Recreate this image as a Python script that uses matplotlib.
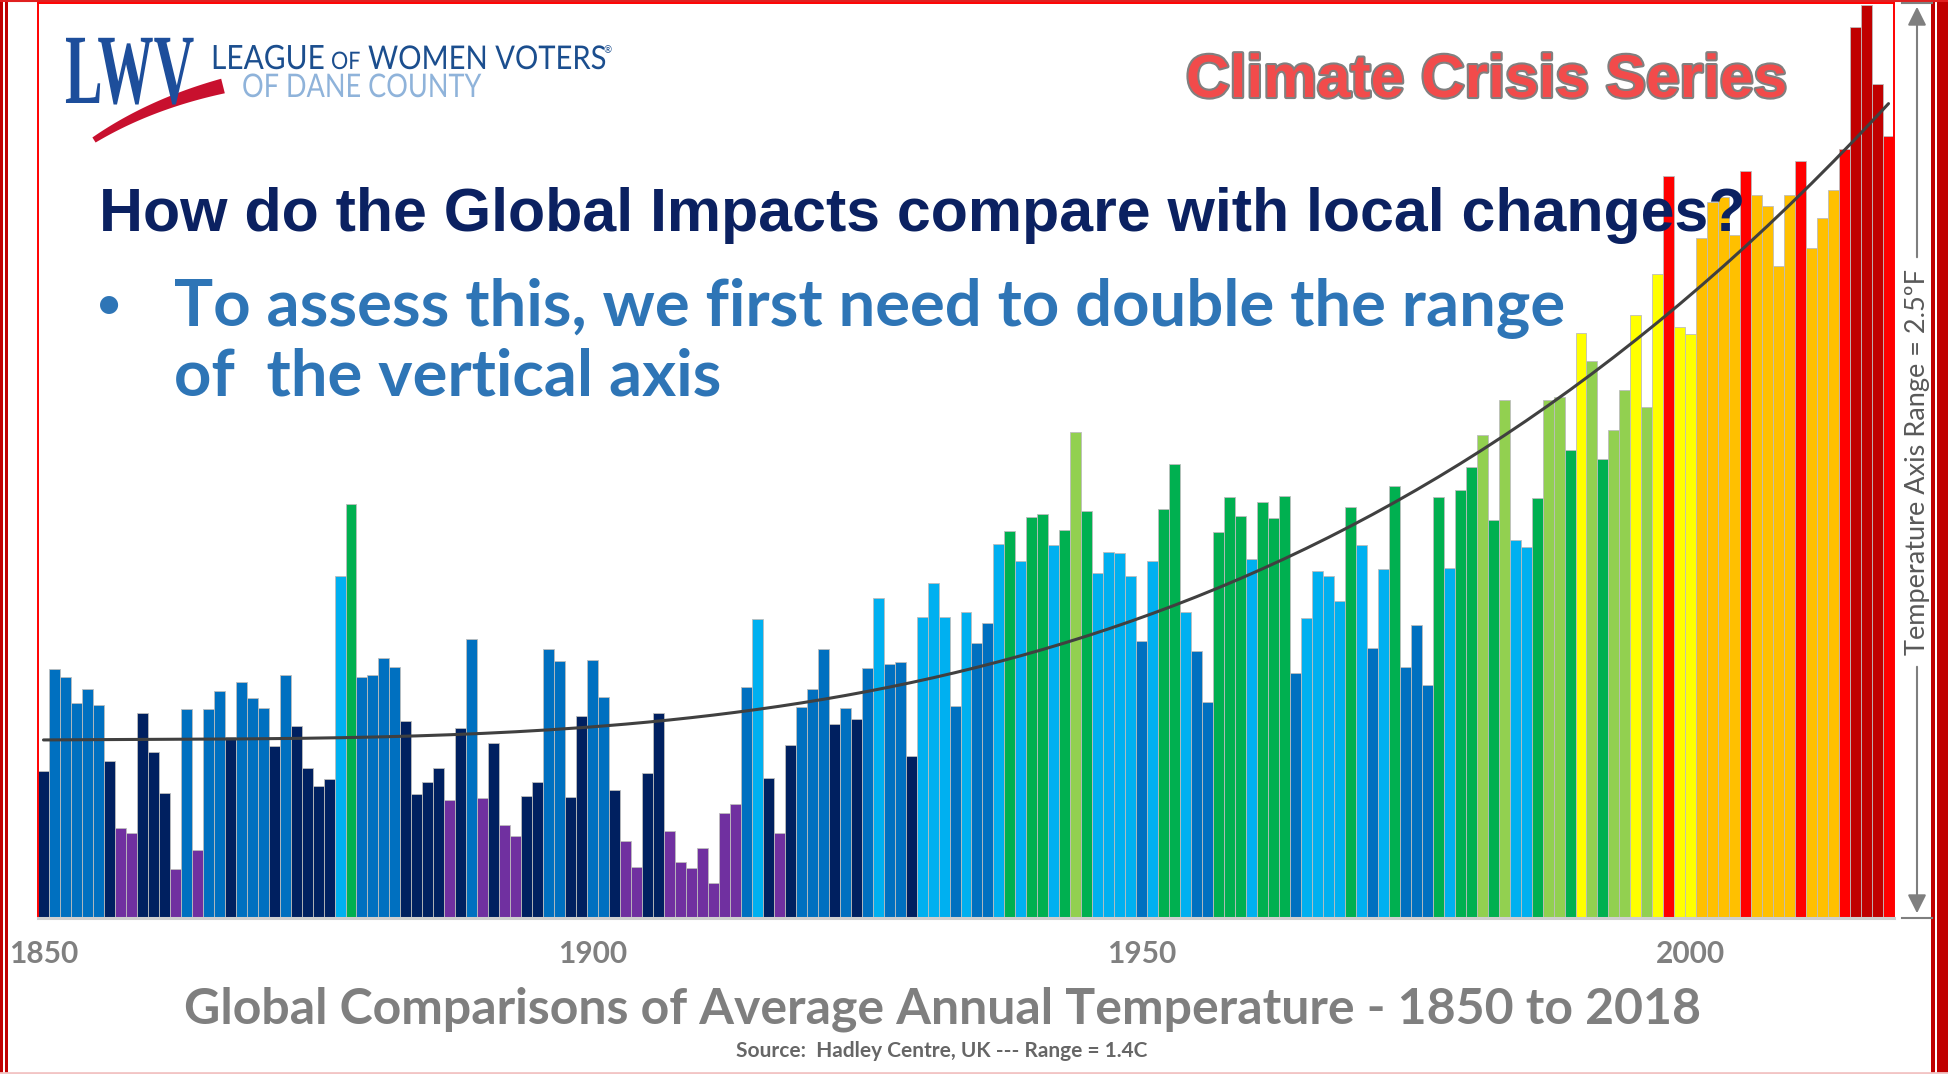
import numpy as np
import matplotlib
matplotlib.use("Agg")
import matplotlib.pyplot as plt
from matplotlib import patheffects as pe
from matplotlib.patches import Rectangle, Polygon
from matplotlib.transforms import Affine2D

# ---------------------------------------------------------------- data
years = np.arange(1850, 2019)

# global annual temperature anomaly, degrees C
anomaly_c = [
    -0.375, -0.218, -0.230, -0.270, -0.249, -0.273, -0.359, -0.462, -0.470, -0.286,
    -0.345, -0.408, -0.525, -0.280, -0.496, -0.280, -0.252, -0.322, -0.238, -0.263,
    -0.278, -0.336, -0.227, -0.306, -0.370, -0.398, -0.387, -0.076, 0.035, -0.230,
    -0.227, -0.201, -0.215, -0.298, -0.410, -0.391, -0.370, -0.419, -0.309, -0.172,
    -0.416, -0.332, -0.457, -0.474, -0.413, -0.391, -0.188, -0.206, -0.414, -0.290,
    -0.204, -0.261, -0.404, -0.482, -0.522, -0.378, -0.286, -0.467, -0.514, -0.523,
    -0.493, -0.546, -0.439, -0.425, -0.246, -0.142, -0.385, -0.470, -0.335, -0.276,
    -0.249, -0.188, -0.303, -0.278, -0.295, -0.217, -0.109, -0.211, -0.207, -0.352,
    -0.138, -0.086, -0.138, -0.275, -0.131, -0.178, -0.148, -0.027, -0.007, -0.053,
    0.015, 0.020, -0.028, -0.005, 0.145, 0.024, -0.071, -0.039, -0.040, -0.076,
    -0.175, -0.053, 0.027, 0.096, -0.131, -0.191, -0.269, -0.008, 0.046, 0.016,
    -0.050, 0.038, 0.013, 0.047, -0.224, -0.140, -0.068, -0.076, -0.114, 0.030,
    -0.028, -0.186, -0.065, 0.062, -0.215, -0.151, -0.243, 0.046, -0.063, 0.056,
    0.092, 0.141, 0.010, 0.194, -0.020, -0.031, 0.044, 0.194, 0.199, 0.118,
    0.297, 0.254, 0.104, 0.148, 0.210, 0.325, 0.184, 0.388, 0.538, 0.306,
    0.296, 0.443, 0.498, 0.506, 0.447, 0.545, 0.509, 0.492, 0.400, 0.509,
    0.561, 0.427, 0.473, 0.516, 0.579, 0.766, 0.800, 0.679, 0.599,
]

# colour bands (upper edges of each band, degrees C)
band_edges = [-0.415, -0.283, -0.145, -0.017, 0.133, 0.279, 0.394, 0.524, 0.639]
band_colors = ["#7030A0", "#002060", "#0070C0", "#00B0F0", "#00B050",
               "#92D050", "#FFFF00", "#FFC000", "#FF0000", "#C00000"]

tick_years = [1850, 1900, 1950, 2000]
axis_range_c = (-0.6, 0.803)

# ---------------------------------------------------------------- figure
W, H = 1948, 1074
fig = plt.figure(figsize=(W / 100, H / 100), dpi=100)
fig.patch.set_facecolor("white")

ax = fig.add_axes([38 / W, (H - 918) / H, (1894 - 38) / W, (918 - 3) / H])
vals = np.asarray(anomaly_c)
base = axis_range_c[0]
cols = [band_colors[i] for i in np.digitize(vals, band_edges)]
ax.bar(years, vals - base, bottom=base, width=1.0, color=cols,
       edgecolor="#bdbdbd", linewidth=0.6, zorder=2)

# trend line (cubic least-squares fit)
coef = np.polyfit(years - 1934, vals, 3)
ax.plot(years, np.polyval(coef, years - 1934), color="#404040", lw=2.2,
        zorder=3, solid_capstyle="round")

ax.set_xlim(1849.5, 2018.5)
ax.set_ylim(*axis_range_c)
ax.set_yticks([])
ax.set_xticks(tick_years)
ax.set_xticklabels([str(y) for y in tick_years], family="Lato",
                   fontweight="bold", fontsize=21.5, color="#808080")
ax.tick_params(axis="x", length=0, pad=16)
for side in ("top", "left", "right"):
    ax.spines[side].set_color("#FF0000")
    ax.spines[side].set_linewidth(1.4)
ax.spines["bottom"].set_color("#d0d0d0")
ax.spines["bottom"].set_linewidth(2.2)

# ---------------------------------------------------------------- overlay (pixel coordinates)
ov = fig.add_axes([0, 0, 1, 1], zorder=5)
ov.set_xlim(0, W)
ov.set_ylim(H, 0)
ov.axis("off")
ov.patch.set_alpha(0)


class Stretch(pe.AbstractPathEffect):
    """Scale glyph outlines about a fixed anchor given in overlay pixels."""

    def __init__(self, sx, sy, x0, y0):
        super().__init__()
        self.sx, self.sy = sx, sy
        self.x0, self.y0 = x0, H - y0   # display coordinates (origin bottom-left)

    def draw_path(self, renderer, gc, tpath, affine, rgbFace=None):
        t = affine + (Affine2D().translate(-self.x0, -self.y0)
                      .scale(self.sx, self.sy).translate(self.x0, self.y0))
        renderer.draw_path(gc, tpath, t, rgbFace)


def stretched_text(x, y, s, sx=1.0, sy=1.0, **kw):
    return ov.text(x, y, s, ha="left", va="baseline",
                   path_effects=[Stretch(sx, sy, x, y)], **kw)


# slide frame
ov.add_patch(Rectangle((0, 0), 3, H, color="#C00000", lw=0))
ov.add_patch(Rectangle((5, 0), 3, H, color="#C00000", lw=0))
ov.add_patch(Rectangle((1931, 0), 4, H, color="#C00000", lw=0))
ov.add_patch(Rectangle((1937, 0), 11, H, color="#C00000", lw=0))
ov.plot([0, W], [1.2, 1.2], color="#E02020", lw=1.5)
ov.plot([0, W], [1072.5, 1072.5], color="#f2c4c4", lw=2)

# logo
stretched_text(65, 103, "LWV", sy=1.77, family="Liberation Serif",
               fontweight="bold", fontsize=40.5, color="#1D4E9B")
t = np.linspace(0, 1, 40)
p0, p1, p2 = np.array([94, 140]), np.array([150, 104]), np.array([223, 86])
pts = ((1 - t) ** 2)[:, None] * p0 + (2 * (1 - t) * t)[:, None] * p1 + (t ** 2)[:, None] * p2
d = np.gradient(pts, axis=0)
nrm = np.stack([-d[:, 1], d[:, 0]], axis=1)
nrm /= np.linalg.norm(nrm, axis=1)[:, None]
wd = (3.0 + 4.5 * t)[:, None]
swoosh = np.vstack([pts + nrm * wd, (pts - nrm * wd)[::-1]])
ov.add_patch(Polygon(swoosh, closed=True, color="#C8102E", lw=0))

logo_blue = "#1B4E8E"
stretched_text(211, 69, "LEAGUE", sy=1.12, family="Lato", fontsize=21.5, color=logo_blue)
stretched_text(331, 69, "OF", sy=1.12, family="Lato", fontsize=15.5, color=logo_blue)
stretched_text(368, 69, "WOMEN VOTERS", sy=1.12, family="Lato", fontsize=21, color=logo_blue)
ov.text(603, 53, "®", family="Lato", fontsize=7, color=logo_blue,
        ha="left", va="baseline")
stretched_text(242, 97, "OF DANE COUNTY", sy=1.2, family="Lato", fontsize=19.5,
               color="#8FB3DA")

ov.text(1186, 97, "Climate Crisis Series", family="Liberation Sans",
        fontweight="bold", fontsize=43.5, color="#F24B4B", ha="left", va="baseline",
        path_effects=[pe.withStroke(linewidth=3, foreground="#808080")])

ov.text(99, 231, "How do the Global Impacts compare with local changes?",
        family="Liberation Sans", fontweight="bold", fontsize=43.8, color="#0B2161",
        ha="left", va="baseline")
ov.text(109, 306, "•", family="Lato", fontweight="bold", fontsize=30,
        color="#2E75B6", ha="center", va="center")
ov.text(174, 326, "To assess this, we first need to double the range",
        family="Lato", fontweight="bold", fontsize=47, color="#2E75B6",
        ha="left", va="baseline")
ov.text(174, 395, "of  the vertical axis",
        family="Lato", fontweight="bold", fontsize=47, color="#2E75B6",
        ha="left", va="baseline")

# axis-range marker on the right
gray = "#7f7f7f"
ov.plot([1902, 1932], [2.5, 2.5], color=gray, lw=1.5)
ov.plot([1902, 1932], [918, 918], color=gray, lw=1.5)
ov.annotate("", xy=(1917, 4), xytext=(1917, 260),
            arrowprops=dict(arrowstyle="-|>", color=gray, lw=1.5, mutation_scale=28))
ov.annotate("", xy=(1917, 916), xytext=(1917, 664),
            arrowprops=dict(arrowstyle="-|>", color=gray, lw=1.5, mutation_scale=28))
ov.text(1917, 462, "Temperature Axis Range = 2.5ºF", family="Lato",
        fontsize=19.5, color="#595959", rotation=90, ha="center", va="center")

# captions
ov.text(942, 1009, "Global Comparisons of Average Annual Temperature - 1850 to 2018",
        family="Lato", fontweight="bold", fontsize=36, color="#7f7f7f",
        ha="center", va="center")
ov.text(942, 1051, "Source:  Hadley Centre, UK --- Range = 1.4C",
        family="Lato", fontweight="bold", fontsize=15, color="#666666",
        ha="center", va="center")

fig.savefig("out.png", dpi=100, facecolor="white")
